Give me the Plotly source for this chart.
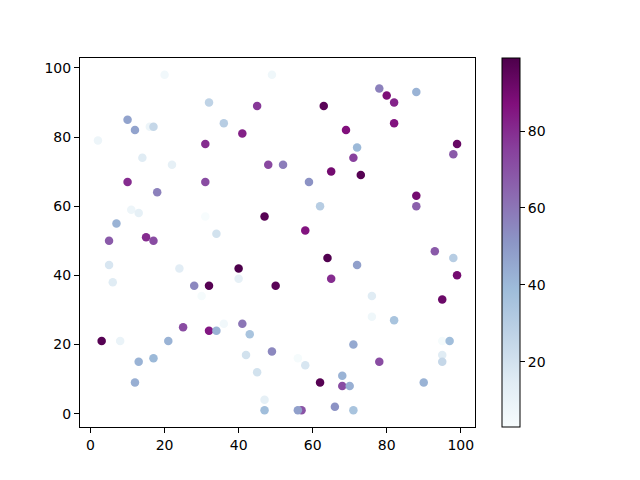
import plotly.graph_objects as go

x_vals = [20, 49, 32, 45, 10, 12, 16, 17, 36, 41, 2, 31, 14, 22, 48, 52, 10, 31, 18, 11,
          13, 31, 47, 7, 34, 5, 15, 17,
          78, 80, 82, 88, 63, 82, 69, 72, 71, 99, 98, 65, 73, 59, 62, 88, 88, 58,
          5, 6, 24, 40, 40, 28, 32, 50, 30, 36, 25, 41, 32, 34, 43, 3, 8, 21, 49, 13,
          17, 42, 45, 12, 47, 47,
          64, 72, 93, 98, 99, 65, 95, 76, 76, 82, 95, 97, 71, 56, 58, 78, 95, 95, 68, 62,
          68, 70, 90, 57, 56, 66, 71]
y_vals = [98, 98, 90, 89, 85, 82, 83, 83, 84, 81, 79, 78, 74, 72, 72, 72, 67, 67, 64, 59,
          58, 57, 57, 55, 52, 50, 51, 50,
          94, 92, 90, 93, 89, 84, 82, 77, 74, 78, 75, 70, 69, 67, 60, 63, 60, 53,
          43, 38, 42, 42, 39, 37, 37, 37, 34, 26, 25, 26, 24, 24, 23, 21, 21, 21, 18, 15,
          16, 17, 12, 9, 4, 1,
          45, 43, 47, 45, 40, 39, 33, 34, 28, 27, 21, 21, 20, 16, 14, 15, 17, 15, 11, 9,
          8, 8, 9, 1, 1, 2, 1]
c_vals = [6, 7, 27, 77, 47, 47, 8, 25, 30, 83, 8, 80, 15, 12, 73, 58, 80, 72, 57, 8,
          12, 3, 97, 42, 20, 68, 80, 72,
          57, 88, 82, 42, 96, 86, 87, 40, 75, 93, 68, 90, 97, 52, 30, 90, 66, 86,
          18, 15, 14, 99, 12, 55, 97, 96, 4, 6, 72, 60, 85, 42, 35, 97, 10, 42, 55, 42,
          40, 20, 20, 43, 12, 38,
          98, 48, 68, 30, 90, 80, 92, 15, 7, 35, 4, 38, 45, 4, 18, 72, 15, 25, 42, 97,
          72, 43, 42, 70, 48, 52, 35]

x_ticks = [0, 20, 40, 60, 80, 100]
y_ticks = [0, 20, 40, 60, 80, 100]
cb_ticks = [20, 40, 60, 80]

FONT = dict(family="DejaVu Sans", size=14, color="black")

fig = go.Figure(go.Scatter(
    x=x_vals, y=y_vals, mode="markers",
    marker=dict(
        size=8.5, color=c_vals, colorscale="BuPu", cmin=min(c_vals), cmax=max(c_vals),
        line=dict(width=0),
        colorbar=dict(
            x=1.068, xanchor="left", xref="paper", y=0.5, yanchor="middle",
            len=1.0, lenmode="fraction", thickness=18, thicknessmode="pixels",
            outlinecolor="black", outlinewidth=1,
            ticks="outside", ticklen=5, tickcolor="black",
            tickvals=cb_ticks, tickfont=FONT,
            xpad=0, ypad=0,
        ),
    ),
    showlegend=False,
))

axis_common = dict(
    showline=True, linecolor="black", linewidth=1, mirror=True,
    ticks="outside", ticklen=5, tickcolor="black", tickwidth=1,
    showgrid=False, zeroline=False,
    tickfont=FONT,
)

fig.update_layout(
    width=640, height=480,
    margin=dict(l=72, r=173, t=50, b=61),
    paper_bgcolor="white", plot_bgcolor="white",
    font=FONT,
    xaxis=dict(range=[-2.85, 103.85], tickvals=x_ticks, **axis_common),
    yaxis=dict(range=[-3.85, 102.85], tickvals=y_ticks, **axis_common),
)

fig.write_html("out.html")
